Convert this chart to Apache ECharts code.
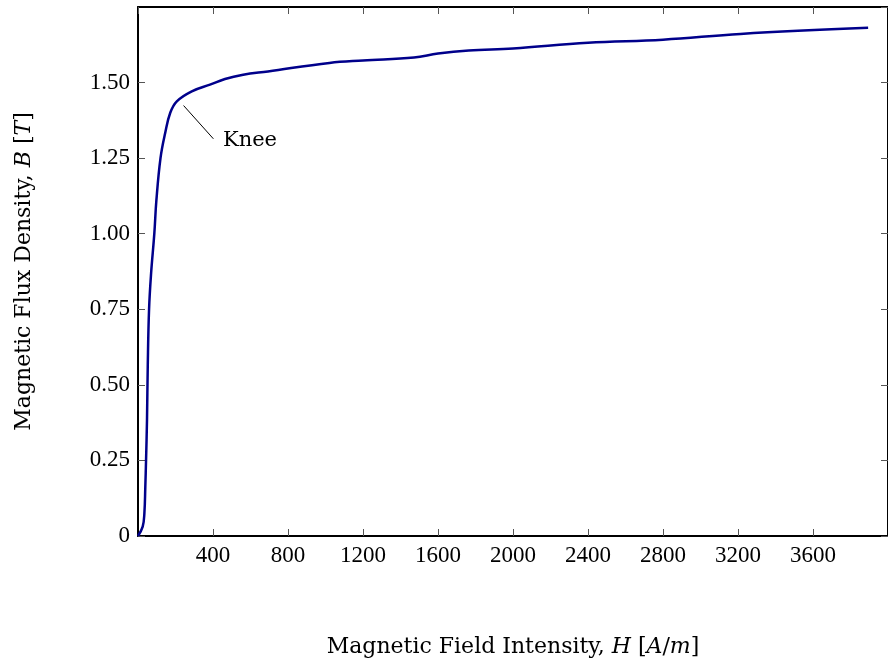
<!DOCTYPE html>
<html>
<head>
<meta charset="utf-8">
<title>B-H curve</title>
<script src="https://cdn.jsdelivr.net/npm/echarts@6/dist/echarts.min.js"></script>
<style>
  html, body { margin: 0; padding: 0; background: #fff; }
  #chart { width: 888px; height: 664px; }
</style>
</head>
<body>
<div id="chart"></div>
<script>
  // magnetising curve
  var fieldH = [0, 25, 34, 39, 43, 48, 52, 59, 70, 87, 98, 120, 145, 172, 207, 287, 384, 464, 561, 693, 1021, 1200, 1472, 1600, 1764, 2000, 2400, 2800, 3213, 3894]
  var fluxB = [0, 0.031, 0.075, 0.163, 0.252, 0.384, 0.561, 0.75, 0.87, 1.0, 1.11, 1.25, 1.333, 1.40, 1.438, 1.471, 1.493, 1.512, 1.526, 1.537, 1.565, 1.573, 1.583, 1.596, 1.606, 1.613, 1.632, 1.642, 1.661, 1.681]
  var kneeFrom = [243, 1.424]
  var kneeTo = [402, 1.314]
  var kneeText = [453, 1.308]

  var tickFont = 'Liberation Serif'
  var titleFont = 'DejaVu Serif'
  var points = fieldH.map(function (h, i) { return [h, fluxB[i]] })

  var chart = echarts.init(document.getElementById('chart'))
  var tick = { show: true, inside: true, length: 7, lineStyle: { color: '#555', width: 1 } }
  var spine = { show: true, onZero: false, lineStyle: { color: '#000', width: 2 } }
  var titleStyle = {
    color: '#000',
    fontFamily: titleFont,
    fontSize: 22,
    rich: { i: { fontStyle: 'italic', fontFamily: titleFont, fontSize: 22, color: '#000' } }
  }

  var option = {
    animation: false,
    grid: { left: 138, top: 7, width: 754, height: 529, containLabel: false },
    xAxis: [
      {
        type: 'value',
        min: 0,
        max: 4000,
        interval: 400,
        axisLine: spine,
        axisTick: tick,
        splitLine: { show: false },
        axisLabel: {
          showMinLabel: false,
          showMaxLabel: false,
          margin: 8,
          color: '#000',
          fontFamily: tickFont,
          fontSize: 23,
          formatter: function (v) { return String(v) }
        },
        name: 'Magnetic Field Intensity, {i|H} [{i|A}/{i|m}]',
        nameLocation: 'middle',
        nameGap: 100,
        nameTextStyle: titleStyle
      },
      {
        type: 'value',
        position: 'top',
        min: 0,
        max: 4000,
        interval: 400,
        axisLine: spine,
        axisTick: tick,
        axisLabel: { show: false },
        splitLine: { show: false }
      }
    ],
    yAxis: [
      {
        type: 'value',
        min: 0,
        max: 1.75,
        interval: 0.25,
        axisLine: spine,
        axisTick: tick,
        splitLine: { show: false },
        axisLabel: {
          showMaxLabel: false,
          margin: 8,
          color: '#000',
          fontFamily: tickFont,
          fontSize: 23,
          formatter: function (v) { return v === 0 ? '0' : v.toFixed(2) }
        },
        name: 'Magnetic Flux Density, {i|B} [{i|T}]',
        nameLocation: 'middle',
        nameRotate: 90,
        nameGap: 103,
        nameTextStyle: titleStyle
      },
      {
        type: 'value',
        position: 'right',
        min: 0,
        max: 1.75,
        interval: 0.25,
        axisLine: spine,
        axisTick: tick,
        axisLabel: { show: false },
        splitLine: { show: false }
      }
    ],
    series: [
      {
        type: 'line',
        data: points,
        smooth: 0.4,
        showSymbol: false,
        lineStyle: { color: '#00008b', width: 2.5 },
        markLine: {
          silent: true,
          symbol: ['none', 'none'],
          label: { show: false },
          lineStyle: { color: '#000', width: 1, type: 'solid' },
          data: [[{ coord: kneeFrom }, { coord: kneeTo }]]
        },
        markPoint: {
          silent: true,
          symbol: 'circle',
          symbolSize: 0,
          label: {
            show: true,
            position: 'right',
            distance: 0,
            formatter: 'Knee',
            color: '#000',
            fontFamily: titleFont,
            fontSize: 21
          },
          data: [{ coord: kneeText }]
        }
      }
    ]
  }

  chart.setOption(option)
</script>
</body>
</html>
